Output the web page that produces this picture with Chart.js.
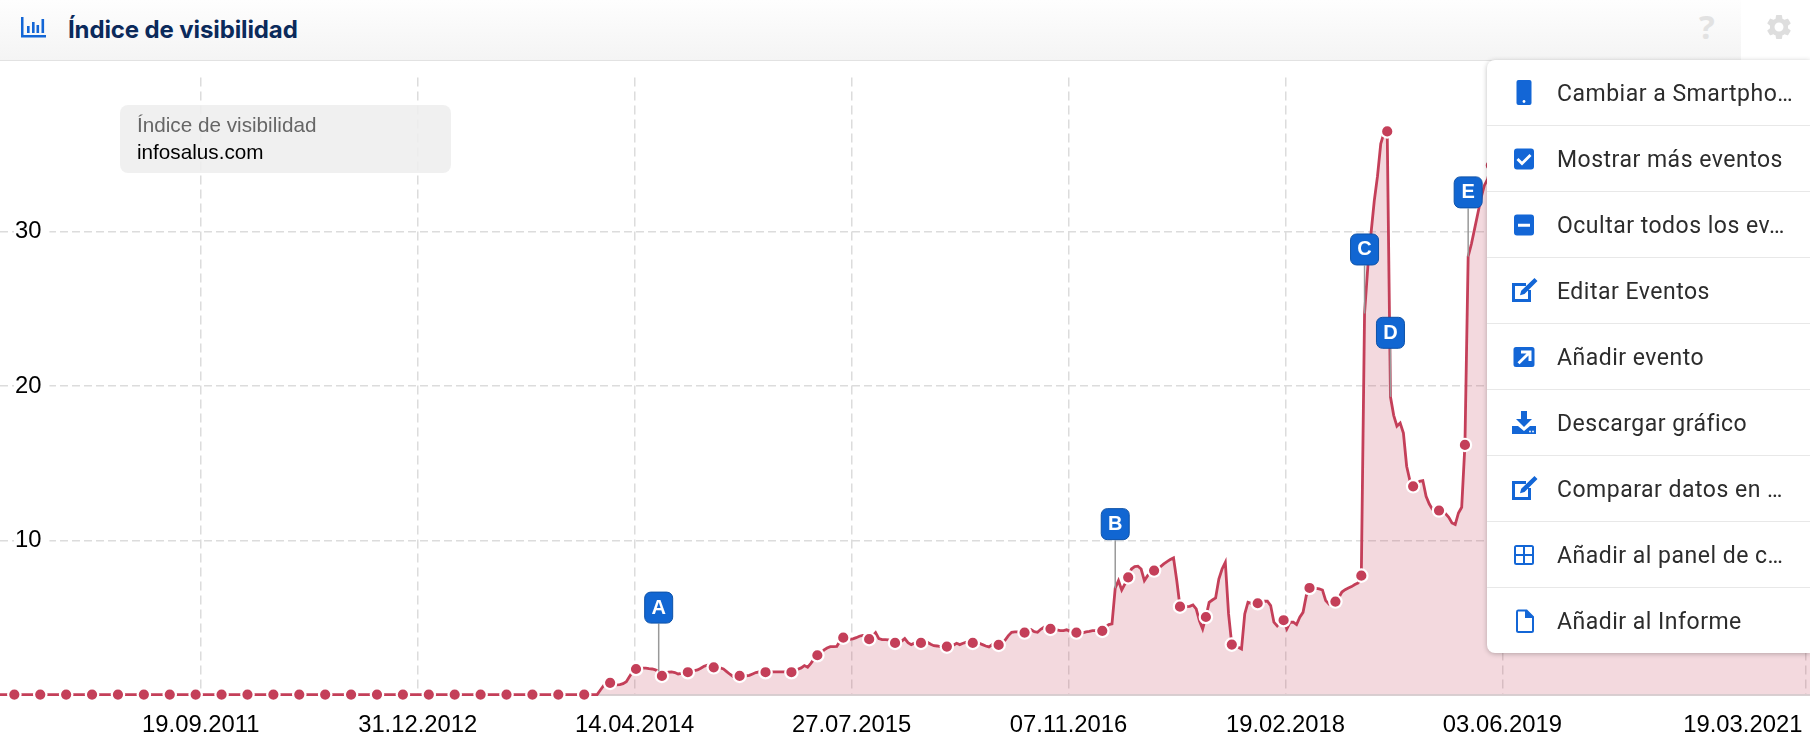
<!DOCTYPE html>
<html lang="es">
<head>
  <meta charset="UTF-8" />
  <title>Índice de visibilidad</title>
  <script src="https://cdn.jsdelivr.net/npm/chart.js"></script>
  <style>
    html, body { margin: 0; padding: 0; background: #fff; }
    body { width: 1810px; height: 751px; position: relative; overflow: hidden; }
    #chartBox { position: absolute; left: 0; top: 0; width: 1810px; height: 751px; }
    #header { position: absolute; left: 0; top: 0; width: 1741px; height: 60px; background: linear-gradient(#fefefe, #f4f4f4); border-bottom: 1px solid #e2e2e2; }
    #header h1 { position: absolute; left: 68px; top: 14px; margin: 0; font: 700 24px/32px Inter, sans-serif; color: #0b2a5b; letter-spacing: -0.12px; }
    .abs { position: absolute; }
    #legendBox { position: absolute; left: 120px; top: 105px; width: 331px; height: 68px; border-radius: 8px; background: rgba(238,238,238,.88); font-family: "Liberation Sans", Arial, sans-serif; }
    #legendBox div { position: absolute; left: 17px; white-space: nowrap; }
    #menu { position: absolute; left: 1487px; top: 60px; width: 323px; height: 593px; background: #fff; border-radius: 8px 0 0 8px; box-shadow: 0 1px 5px rgba(0,0,0,.25); }
    .row { position: absolute; left: 0; width: 323px; height: 65px; border-bottom: 1px solid #e8e8e8; }
    .row:last-child { border-bottom: none; }
    .row span { position: absolute; left: 70px; top: 1px; font: 400 23px/66px Roboto, sans-serif; color: #2c2c2c; white-space: nowrap; letter-spacing: .5px; }
    .row svg { position: absolute; left: 23px; top: 19px; width: 28px; height: 28px; fill: #1366d6; }
  </style>
</head>
<body>
  <div id="chartBox"><canvas id="visChart" width="1810" height="751"></canvas></div>

  <div id="legendBox">
    <div style="top:9px;font-size:20.700px;line-height:22px;color:#666">Índice de visibilidad</div>
    <div style="top:36px;font-size:20.700px;line-height:22px;color:#000">infosalus.com</div>
  </div>

  <div id="header">
    <svg class="abs" style="left:21px;top:17px" width="25" height="21" viewBox="0 0 25 21" fill="#1366d6">
      <path d="M0 0h2.500v18H25v2.500H0z"/><rect x="6" y="9" width="2.600" height="7"/><rect x="11" y="5" width="2.600" height="11"/><rect x="15.500" y="8" width="2.600" height="8"/><rect x="20.500" y="2" width="2.600" height="14"/>
    </svg>
    <h1>Índice de visibilidad</h1>
    <div class="abs" style="left:1699px;top:9px;font:700 33px/36px 'Open Sans',sans-serif;color:#e2e2e2">?</div>
  </div>
  <svg class="abs" style="left:1764px;top:12px" width="30" height="30" viewBox="0 0 24 24" fill="#dedede">
    <path d="M19.140 12.940c.04-.3.06-.61.06-.94 0-.32-.02-.64-.07-.94l2.030-1.580c.18-.14.23-.41.12-.61l-1.920-3.320c-.12-.22-.37-.29-.59-.22l-2.390.96c-.5-.38-1.030-.7-1.620-.94l-.36-2.540c-.04-.24-.24-.41-.48-.41h-3.840c-.24 0-.43.17-.47.41l-.36 2.540c-.59.24-1.130.57-1.620.94l-2.390-.96c-.22-.08-.47 0-.59.22L2.740 8.870c-.12.21-.08.47.12.61l2.030 1.580c-.05.3-.09.63-.09.94s.02.64.07.94l-2.030 1.580c-.18.14-.23.41-.12.61l1.920 3.320c.12.22.37.29.59.22l2.390-.96c.5.38 1.030.7 1.620.94l.36 2.540c.05.24.24.41.48.41h3.840c.24 0 .44-.17.47-.41l.36-2.540c.59-.24 1.130-.56 1.620-.94l2.390.96c.22.08.47 0 .59-.22l1.920-3.320c.12-.22.07-.47-.12-.61l-2.010-1.580zM12 15.600c-1.980 0-3.600-1.620-3.600-3.600s1.620-3.600 3.600-3.600 3.600 1.620 3.600 3.600-1.620 3.600-3.600 3.600z"/>
  </svg>

  <div id="menu"></div>

  <script>
    // weekly index values, one row per 8 weeks (first number of a row has the marker)
    const seriesStart = '2010-07-08';
    const axisStart = '2010-07-12';
    const axisEnd = '2021-03-29';
    const leadIn = [0, 0, 0, 0, 0];
    const visibility = [
      0,0,0,0,0,0,0,0, 0,0,0,0,0,0,0,0, 0,0,0,0,0,0,0,0, 0,0,0,0,0,0,0,0,
      0,0,0,0,0,0,0,0, 0,0,0,0,0,0,0,0, 0,0,0,0,0,0,0,0, 0,0,0,0,0,0,0,0,
      0,0,0,0,0,0,0,0, 0,0,0,0,0,0,0,0, 0,0,0,0,0,0,0,0, 0,0,0,0,0,0,0,0,
      0,0,0,0,0,0,0,0, 0,0,0,0,0,0,0,0, 0,0,0,0,0,0,0,0, 0,0,0,0,0,0,0,0,
      0,0,0,0,0,0,0,0, 0,0,0,0,0,0,0,0, 0,0,0,0,0,0,0,0, 0,0,0,0,0,0,0,0,
      0,0,0,0,0,0,0,0, 0,0,0,0,0,0,0,0,
      0, 0, 0, 0, 0, .3, .58, .69,
      .76, .69, .63, .65, .71, .84, 1.17, 1.51,
      1.66, 1.71, 1.71, 1.71, 1.68, 1.66, 1.6, 1.49,
      1.21, 1.38, 1.45, 1.47, 1.43, 1.34, 1.38, 1.43,
      1.45, 1.49, 1.56, 1.6, 1.71, 1.84, 1.9, 1.84,
      1.77, 1.75, 1.73, 1.66, 1.49, 1.32, 1.17, 1.17,
      1.21, 1.17, 1.21, 1.25, 1.34, 1.43, 1.47, 1.47,
      1.45, 1.47, 1.47, 1.47, 1.47, 1.47, 1.47, 1.47,
      1.45, 1.56, 1.64, 1.73, 1.88, 1.77, 2.03, 2.31,
      2.55, 2.63, 2.89, 3.02, 3.11, 3.11, 3.13, 3.46,
      3.69, 3.67, 3.59, 3.61, 3.69, 3.78, 3.84, 3.78,
      3.59, 3.78, 4.02, 3.63, 3.56, 3.56, 3.54, 3.46,
      3.35, 3.37, 3.46, 3.63, 3.37, 3.24, 3.33, 3.37,
      3.35, 3.43, 3.39, 3.26, 3.17, 3.15, 3.11, 3.11,
      3.11, 3.09, 3.2, 3.33, 3.24, 3.33, 3.39, 3.37,
      3.35, 3.41, 3.33, 3.24, 3.15, 3.09, 3.24, 3.39,
      3.22, 3.33, 3.54, 3.82, 4.04, 4.06, 4.06, 4.04,
      4.02, 4.1, 4.21, 4.08, 4.04, 4.23, 4.36, 4.32,
      4.26, 4.2, 4.2, 4.15, 4.15, 4.2, 4.1, 4.05,
      4.02, 3.97, 4.0, 4.06, 4.1, 4.15, 4.15, 4.15,
      4.13, 4.36, 4.54, 4.58, 6.9, 7.39, 6.78, 7.17,
      7.6, 8.14, 8.29, 8.32, 8.14, 7.39, 7.71, 7.93,
      8.04, 8.14, 8.29, 8.47, 8.62, 8.75, 8.86, 7.39,
      5.7, 5.7, 5.7, 5.72, 5.81, 5.55, 4.79, 4.25,
      5.03, 5.98, 6.13, 6.26, 7.49, 8.14, 8.57, 5.23,
      3.24, 3.17, 3.07, 2.96, 5.23, 5.98, 5.92, 5.92,
      5.92, 5.98, 6.05, 6.05, 5.77, 4.69, 4.45, 4.69,
      4.82, 4.25, 4.69, 4.69, 4.54, 5.01, 5.33, 6.41,
      6.91, 6.91, 6.89, 6.85, 6.78, 6.09, 5.87, 5.98,
      6.03, 6.26, 6.65, 6.8, 6.91, 7.0, 7.13, 7.24,
      7.71, 24.7, 27.7, 29.9, 32.0, 33.6, 35.7, 36.4,
      36.5, 19.3, 18.1, 17.4, 17.6, 16.95, 14.8, 13.87,
      13.5, 13.6, 13.82, 13.87, 12.85, 12.35, 11.99, 11.84,
      11.93, 11.84, 11.73, 11.49, 11.12, 11.02, 11.77, 12.14,
      16.18, 28.4, 29.2, 30.2, 31.2, 32.2, 33, 33.4,
      // from here on the line sits behind the menu, rough guess
      34.3, 34.6, 34, 33.5, 33.1, 32.8, 32.2, 31.6,
      31, 30.5, 30.8, 30.2, 29.6, 29.1, 28.7, 28.2,
      27.8, 27.4, 27.9, 27.3, 26.8, 26.4, 26, 25.6,
      25.2, 24.9, 25.3, 24.8, 24.4, 24, 23.7, 23.3,
      23, 22.7, 23.1, 22.6, 22.2, 21.9, 21.6, 21.4,
      21.2, 21.5, 21.1, 20.8, 20.5, 20.3, 20, 19.8,
      19.6, 19.9, 19.5, 19.2, 19, 18.8, 18.6, 18.4,
      18.2, 18.5, 18.1, 17.9, 17.7, 17.5, 17.3, 17.1,
      17, 17.3, 16.9, 16.7, 16.5, 16.3, 16.2, 16,
      15.9, 16.2, 15.8, 15.6, 15.5, 15.3, 15.2, 15,
      14.9, 15.2, 14.8, 14.7, 14.5, 14.4, 14.3, 14.1,
      14, 14.3, 14, 13.8, 13.7, 13.6, 13.5, 13.4,
      13.3, 13.5, 13.3, 13.1, 13, 12.9, 12.8, 12.7
    ];
    const yTicks = [10, 20, 30];
    const xTickDates = ['2011-09-19', '2012-12-31', '2014-04-14', '2015-07-27', '2016-11-07', '2018-02-19', '2019-06-03', '2021-03-19'];
    const xTickLabels = ['19.09.2011', '31.12.2012', '14.04.2014', '27.07.2015', '07.11.2016', '19.02.2018', '03.06.2019', '19.03.2021'];
    const eventLabels = ['A', 'B', 'C', 'D', 'E'];
    const eventIndex = [204, 345, 422, 430, 454]; // index into the weekly data
    const menuItems = ['Cambiar a Smartpho…', 'Mostrar más eventos', 'Ocultar todos los ev…', 'Editar Eventos', 'Añadir evento', 'Descargar gráfico', 'Comparar datos en …', 'Añadir al panel de c…', 'Añadir al Informe'];

    const editIcon = '<path d="M2 6h14v3H5v13h13V13h3v12H2zM24.500 1l3 3L14.500 17l-4.500 1.200 1.200-4.500z"/>';
    const menuIcons = [
      '<rect x="6.500" y="1" width="15" height="25" rx="2"/><circle cx="14" cy="22.500" r="1.400" fill="#fff"/>',
      '<path d="M21 3H7a3 3 0 0 0-3 3v15a3 3 0 0 0 3 3h14a3 3 0 0 0 3-3V6a3 3 0 0 0-3-3zM12 20l-5.500-5.500 2-2L12 16l7.500-7.500 2 2z" transform="translate(0 0.500)"/>',
      '<path d="M21 3.500H7a3 3 0 0 0-3 3v15a3 3 0 0 0 3 3h14a3 3 0 0 0 3-3v-15a3 3 0 0 0-3-3zM20 15.800H8v-3h12z"/>',
      editIcon,
      '<path d="M6 4h16a2.500 2.500 0 0 1 2.500 2.500v15A2.500 2.500 0 0 1 22 24H6a2.500 2.500 0 0 1-2.500-2.500v-15A2.500 2.500 0 0 1 6 4zm5 3.500v3h5.500L7.500 19.300l2 2L18.500 12.500V18h3V7.500z"/>',
      '<path d="M11 2h6v8h5l-8 8-8-8h5z"/><path d="M2 17h6l6 5 6-5h6v8H2z"/><circle cx="20" cy="22.500" r=".9" fill="#fff"/><circle cx="23" cy="22.500" r=".9" fill="#fff"/>',
      editIcon,
      '<path d="M6.500 4h15A2.500 2.500 0 0 1 24 6.500v15a2.500 2.500 0 0 1-2.500 2.500h-15A2.500 2.500 0 0 1 4 21.500v-15A2.500 2.500 0 0 1 6.500 4zM6 6v7h7V6zm9 0v7h7V6zM6 15v7h7v-7zm9 0v7h7v-7z"/>',
      '<path d="M8 2.500h9l7 7v14a2.500 2.500 0 0 1-2.500 2.500h-13A2.500 2.500 0 0 1 6 23.500V5a2.500 2.500 0 0 1 2-2.500zM8 4.500V24h14V11h-7V4.500z"/>'
    ];

    const menu = document.getElementById('menu');
    menuItems.forEach((txt, i) => {
      const row = document.createElement('div');
      row.className = 'row';
      row.style.top = (i * 66) + 'px';
      row.innerHTML = `<svg viewBox="0 0 28 28">${menuIcons[i]}</svg><span>${txt}</span>`;
      menu.appendChild(row);
    });

    const toDay = s => Date.parse(s + 'T00:00:00Z') / 86400000;
    const allValues = leadIn.concat(visibility);
    const points = allValues.map((v, i) => ({ x: toDay(seriesStart) + i * 7, y: v }));
    const xTickDays = xTickDates.map(toDay);
    const tickFont = { family: '"Liberation Sans", Arial, sans-serif', size: 23.8 };

    const isMarker = ctx => ctx.dataIndex % 8 === 5;

    // event flags A..E and the last date label, which sits left of its grid line
    const extras = {
      id: 'extras',
      afterDatasetsDraw(chart) {
        const c = chart.ctx;
        const meta = chart.getDatasetMeta(0);
        const x = chart.scales.x;
        c.save();
        eventLabels.forEach((lab, i) => {
          const p = meta.data[eventIndex[i]];
          const bx = p.x - 14.5, by = p.y - 48 - 32;
          c.strokeStyle = '#999';
          c.lineWidth = 1.5;
          c.beginPath();
          c.moveTo(p.x, by + 32);
          c.lineTo(p.x, p.y);
          c.stroke();
          c.fillStyle = '#1166d2';
          c.strokeStyle = '#0e52a8';
          c.lineWidth = 1;
          c.beginPath();
          c.roundRect(bx + .5, by + .5, 28, 31, 6);
          c.fill();
          c.stroke();
          c.fillStyle = '#fff';
          c.font = 'bold 20px "Liberation Sans", Arial, sans-serif';
          c.textAlign = 'center';
          c.textBaseline = 'middle';
          c.fillText(lab, p.x, by + 16.5);
        });
        c.fillStyle = '#000';
        c.font = '23.8px "Liberation Sans", Arial, sans-serif';
        c.textAlign = 'right';
        c.textBaseline = 'middle';
        c.fillText(xTickLabels[7], x.getPixelForValue(xTickDays[7]) - 3, 725);
        c.restore();
      }
    };

    new Chart(document.getElementById('visChart'), {
      type: 'line',
      data: {
        datasets: [{
          data: points,
          clip: false,
          borderColor: '#c43f59',
          borderWidth: 2.8,
          tension: 0,
          fill: 'origin',
          backgroundColor: 'rgba(196,63,89,0.2)',
          pointRadius: ctx => isMarker(ctx) ? 6.2 : 0,
          pointBackgroundColor: '#c43f59',
          pointBorderColor: '#fff',
          pointBorderWidth: 2.2
        }]
      },
      options: {
        responsive: false,
        animation: false,
        parsing: false,
        layout: { padding: { top: 77.4, left: 0, right: 0, bottom: 0 } },
        plugins: { legend: { display: false }, tooltip: { enabled: false } },
        scales: {
          x: {
            type: 'linear',
            min: toDay(axisStart),
            max: toDay(axisEnd),
            afterBuildTicks: s => { s.ticks = xTickDays.map(v => ({ value: v })); },
            afterFit: s => { s.height = 56.4; s.paddingLeft = 0; s.paddingRight = 0; },
            border: { color: '#d9d0d2', width: 2, dash: [9, 5] },
            grid: { color: '#dcdcdc', lineWidth: 1.5, drawTicks: false },
            ticks: {
              autoSkip: false,
              maxRotation: 0,
              padding: 17,
              color: '#000',
              font: tickFont,
              callback: (v, i) => i === 7 ? '' : xTickLabels[i]
            }
          },
          y: {
            min: 0,
            max: 40,
            afterBuildTicks: s => { s.ticks = yTicks.map(v => ({ value: v })); },
            afterFit: s => { s.width = 0; s.paddingTop = 0; s.paddingBottom = 0; },
            border: { display: false, dash: [8, 4] },
            grid: { color: '#dcdcdc', lineWidth: 1.5, drawTicks: false },
            ticks: {
              mirror: true,
              padding: 15,
              color: '#000',
              font: tickFont,
              showLabelBackdrop: true,
              backdropColor: '#fff',
              backdropPadding: { left: 1, right: 8, top: 0, bottom: 0 },
              callback: v => String(v)
            }
          }
        }
      },
      plugins: [extras]
    });
  </script>
</body>
</html>
